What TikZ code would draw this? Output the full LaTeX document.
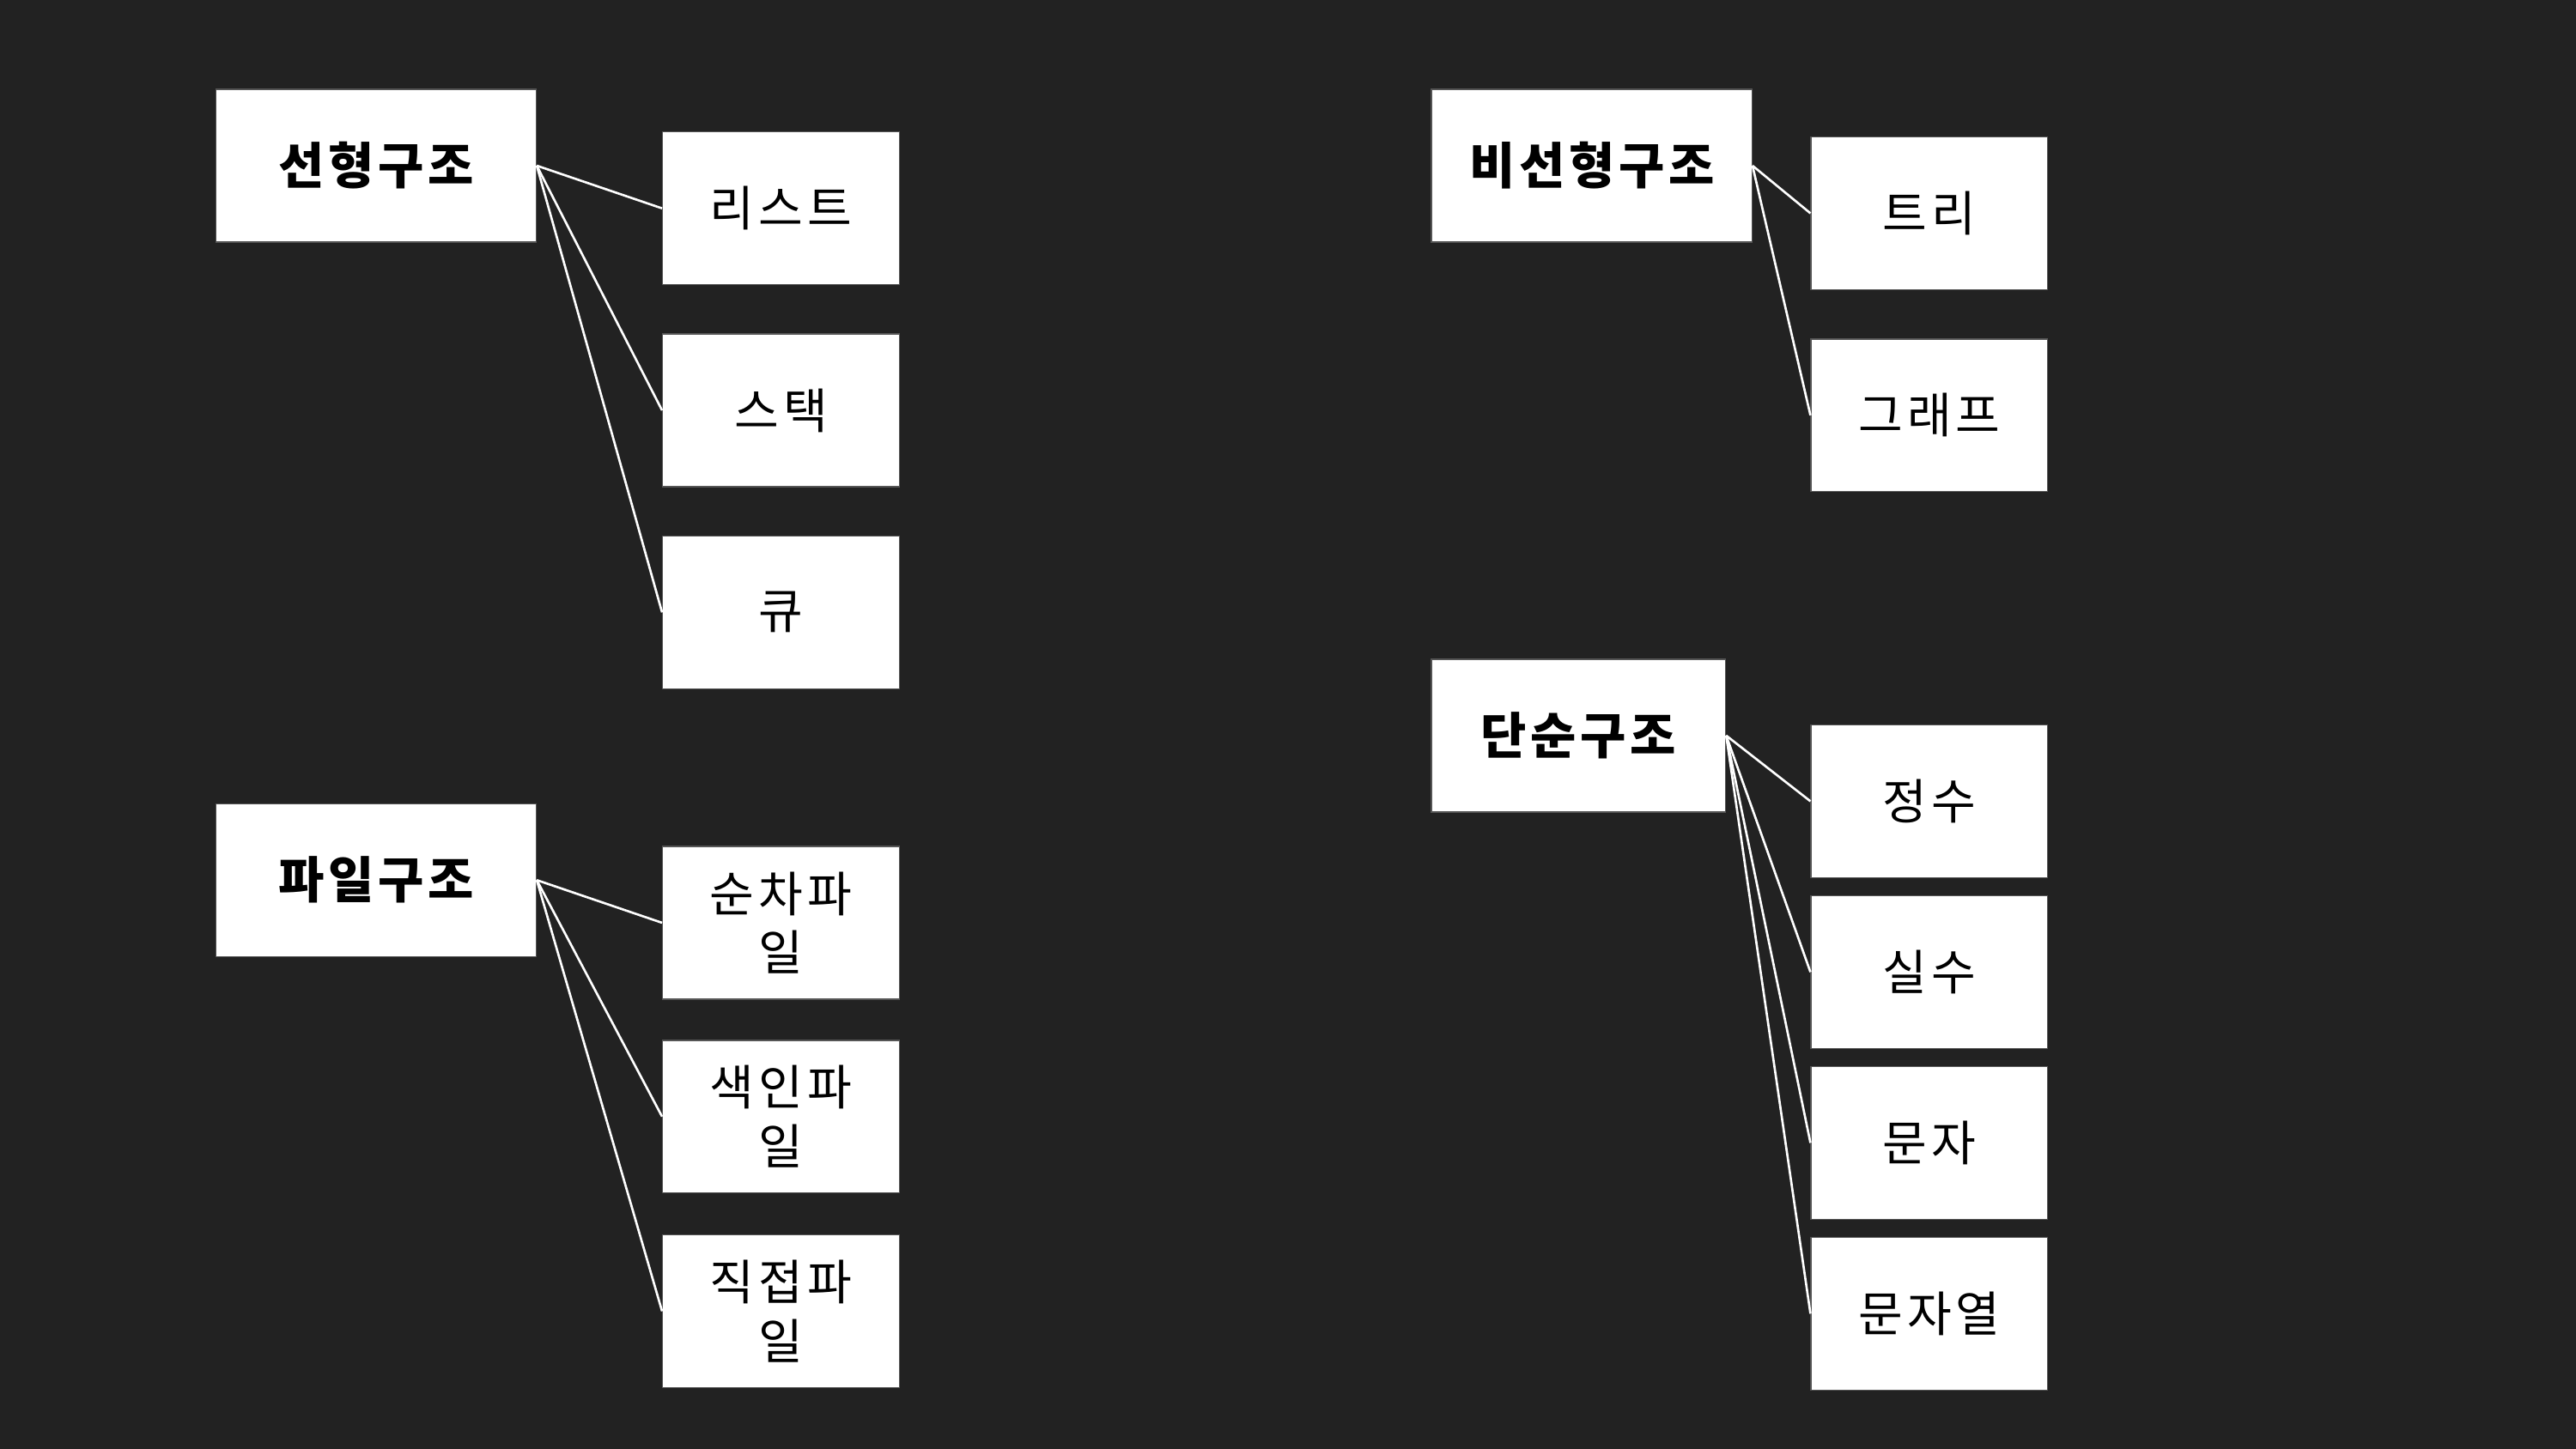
\documentclass[tikz,border=0pt]{standalone}
\usepackage{fontspec}
\setmainfont{Noto Sans CJK KR}
\definecolor{bgc}{HTML}{222222}
\definecolor{edgec}{HTML}{555555}
\begin{document}
\begin{tikzpicture}[x=0.019133cm,y=-0.019133cm,
  boxbase/.style={rectangle,fill=white,draw=edgec,line width=0.4pt,inner sep=0pt,anchor=north west,text=black,align=center},
  headbox/.style={boxbase,font=\fontsize{16.5}{20}\selectfont\bfseries\addfontfeature{LetterSpace=8}},
  leafbox/.style={boxbase,font=\fontsize{16}{19.5}\selectfont\addfontfeature{LetterSpace=9}},
  conn/.style={draw=white,line width=0.75pt}]
\fill[bgc] (0,0) rectangle (1568,882);
\useasboundingbox (0,0) rectangle (1568,882);
% heads
\node[headbox,minimum width=195*0.19133mm,minimum height=93*0.19133mm] (lin) at (131,54) {선형구조};
\node[headbox,minimum width=195*0.19133mm,minimum height=93*0.19133mm] (fil) at (131,489) {파일구조};
\node[headbox,minimum width=195*0.19133mm,minimum height=93*0.19133mm] (non) at (871,54) {비선형구조};
\node[headbox,minimum width=179*0.19133mm,minimum height=93*0.19133mm] (sim) at (871,401) {단순구조};
% leaves
\tikzset{lf/.style={leafbox,minimum width=144*0.19133mm,minimum height=93*0.19133mm}}
\node[lf] (list) at (403,80) {리스트};
\node[lf] (stack) at (403,203) {스택};
\node[lf] (queue) at (403,326) {큐};
\node[lf] (seq) at (403,515) {순차파\\일};
\node[lf] (idx) at (403,633) {색인파\\일};
\node[lf] (dir) at (403,751.5) {직접파\\일};
\node[lf] (tree) at (1102,83) {트리};
\node[lf] (graph) at (1102,206) {그래프};
\node[lf] (int) at (1102,441) {정수};
\node[lf] (real) at (1102,545) {실수};
\node[lf] (chr) at (1102,649) {문자};
\node[lf] (str) at (1102,753) {문자열};
% connectors
\foreach \c in {list,stack,queue} \draw[conn] (lin.east) -- (\c.west);
\foreach \c in {seq,idx,dir} \draw[conn] (fil.east) -- (\c.west);
\foreach \c in {tree,graph} \draw[conn] (non.east) -- (\c.west);
\foreach \c in {int,real,chr,str} \draw[conn] (sim.east) -- (\c.west);
\end{tikzpicture}
\end{document}
